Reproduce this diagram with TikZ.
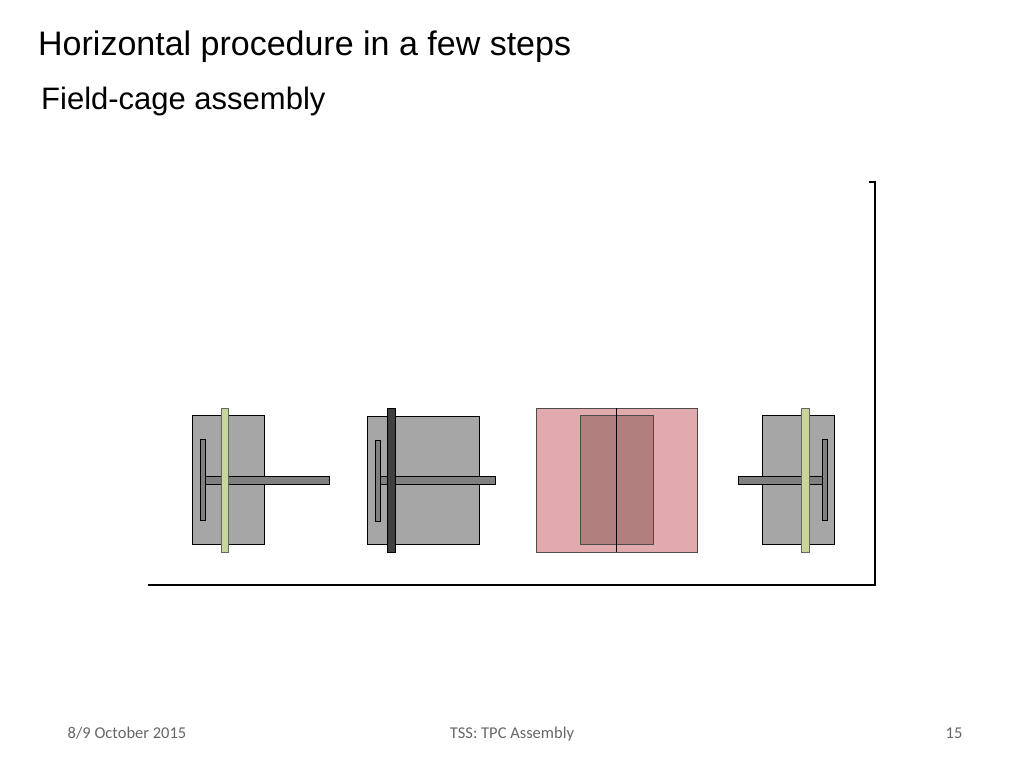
\documentclass[tikz,border=0pt]{standalone}
\usepackage{fontspec}
\setmainfont{Liberation Sans}
\newfontfamily\foot{Carlito}
\begin{document}
\begin{tikzpicture}[x=1pt,y=-1pt,
  gbox/.style={draw=black,fill=gray!70,line width=0.8pt},
  bar/.style={draw=black,fill=black!50,line width=0.8pt},
  green/.style={draw=black!60,fill={rgb,255:red,200;green,214;blue,154},line width=0.8pt},
  ftxt/.style={text=black!60,font=\foot\fontsize{16.5}{19}\selectfont,anchor=base}]
\useasboundingbox (0,0) rectangle (1024,768);
\node[anchor=base west,inner sep=0pt,font=\fontsize{34}{40}\selectfont] (t) at (38,56) {Horizontal procedure in a few steps};
\node[anchor=base west,inner sep=0pt,font=\fontsize{31}{36}\selectfont] (s) at (41,109) {Field-cage assembly};
% group 1
\draw[gbox] (192,415) rectangle (264,544);
\draw[bar] (200,439) rectangle (205,520);
\draw[bar] (205,476) rectangle (329,484);
\draw[green] (221,408) rectangle (228,552);
% group 2
\draw[gbox] (367,416) rectangle (479,544);
\draw[bar] (375,440) rectangle (380,521);
\draw[bar] (380,476) rectangle (495,484);
\draw[draw=black,fill=black!75,line width=0.8pt] (387,408) rectangle (395,552);
% group 3
\draw[draw=black!70,fill={rgb,255:red,225;green,170;blue,172},line width=0.8pt] (536,408) rectangle (697,552);
\draw[draw=black!70,fill={rgb,255:red,176;green,127;blue,126},line width=0.8pt] (580,415) rectangle (653,544);
\draw[black,line width=0.8pt] (616,408) -- (616,552);
% group 4
\draw[gbox] (762,415) rectangle (834,544);
\draw[bar] (822,439) rectangle (827,520);
\draw[bar] (738,476) rectangle (822,484);
\draw[green] (801,408) rectangle (809,552);
% axes
\coordinate (a0) at (148,585);
\coordinate (a1) at (875,585);
\coordinate (a2) at (875,182);
\coordinate (a3) at (869,182);
\draw[line width=2.5pt] (a0) -- (a1) -- (a2) -- (a3);
% footer
\node[ftxt] (f1) at (127,738) {8/9 October 2015};
\node[ftxt] (f2) at (512,738) {TSS: TPC Assembly};
\node[ftxt] (f3) at (954,738) {15};
\end{tikzpicture}
\end{document}
